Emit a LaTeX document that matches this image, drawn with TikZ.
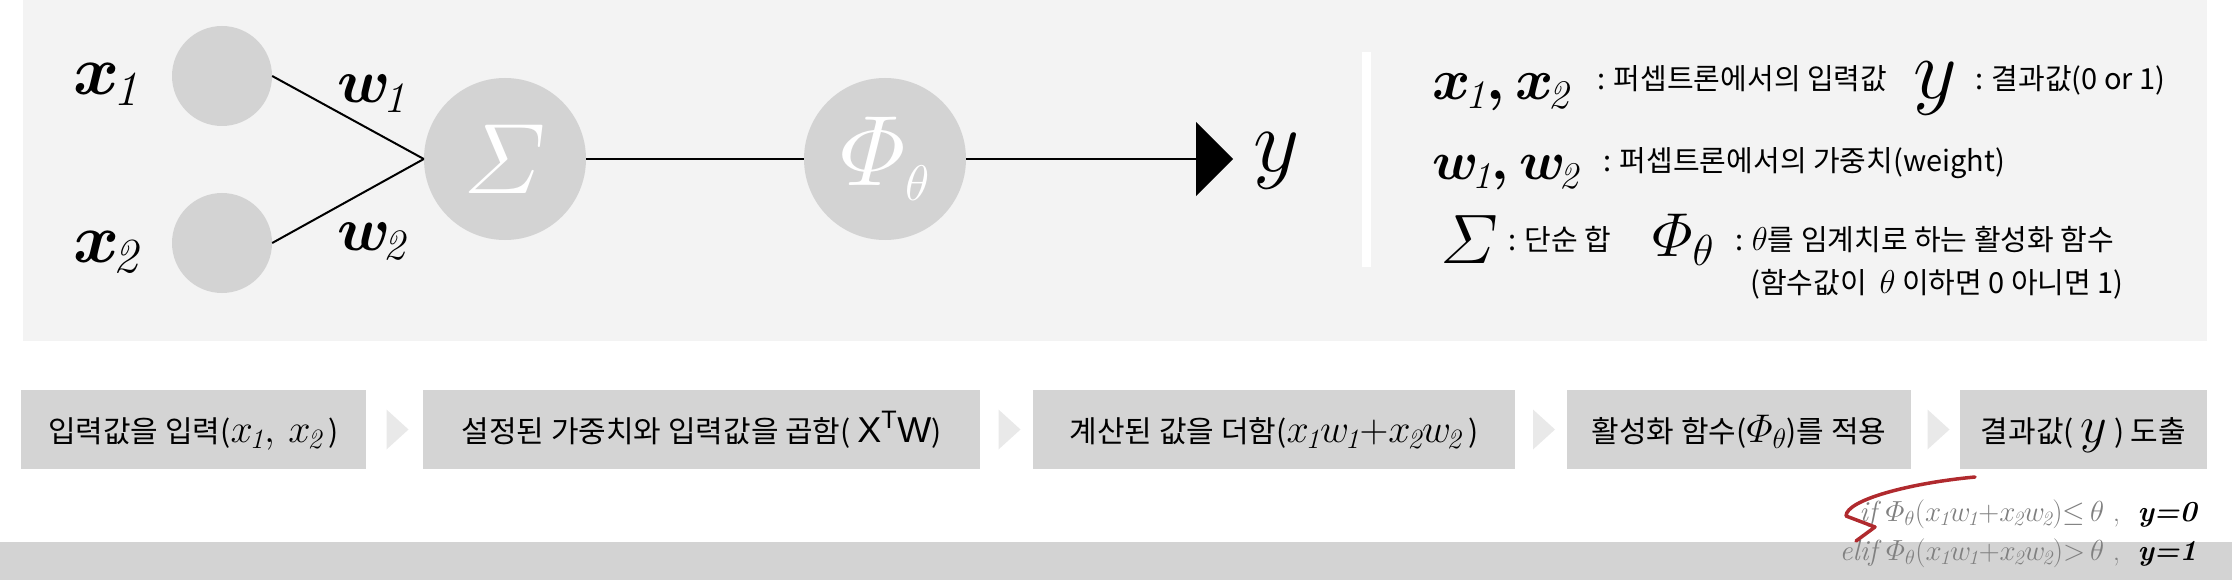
\RequirePackage{fix-cm}
\documentclass[tikz,border=0pt]{standalone}
\usepackage{amsmath}
\usepackage{fontspec}
\newfontfamily\kr{Noto Sans CJK KR}
\newfontfamily\lsans{Liberation Sans}
\usetikzlibrary{arrows.meta,calc}
\newcommand\myfs[1]{\fontsize{#1}{#1}\selectfont}
\newcommand\isub[1]{_{\mkern-2mu\text{\normalfont\itshape #1}}}
\definecolor{panelgray}{HTML}{F3F3F3}
\definecolor{circgray}{HTML}{D3D3D3}
\definecolor{boxgray}{HTML}{D4D4D4}
\definecolor{chevgray}{HTML}{E9E9E9}
\definecolor{stripgray}{HTML}{D3D3D3}
\definecolor{formgray}{HTML}{808080}
\definecolor{penred}{HTML}{B02A2E}
\tikzset{
  neuron/.style={circle, fill=circgray, inner sep=0pt},
  conn/.style={line width=2pt, draw=black},
  lbl/.style={inner sep=0pt, anchor=base west},
  stepbox/.style={fill=boxgray, minimum height=79pt, inner sep=0pt, text height=25pt, text depth=0pt, font=\kr\myfs{30}},
  chev/.style={fill=chevgray},
  cond/.style={anchor=base east, inner sep=0pt, font=\myfs{29}, text=formgray}
}
\begin{document}
\begin{tikzpicture}[x=1pt,y=-1pt]
\useasboundingbox (0,0) rectangle (2232,580);
% backgrounds
\fill[panelgray] (23,0) rectangle (2207,341);
\fill[stripgray] (0,542) rectangle (2232,580);
\fill[white] (1362,52) rectangle (1371,267);

% network
\node[neuron, minimum size=100pt] (i1) at (222,76) {};
\node[neuron, minimum size=100pt] (i2) at (222,243) {};
\node[neuron, minimum size=162pt, text=white, font=\myfs{100}] (sum) at (505,159) {$\mathnormal{\Sigma}$};
\node[neuron, minimum size=162pt, text=white, font=\myfs{100}] (phi) at (885,159) {$\mathnormal{\Phi}_{\scriptscriptstyle\theta}$};
\coordinate (yend) at (1233,159);

\draw[conn] (i1.east) -- (sum.west);
\draw[conn] (i2.east) -- (sum.west);
\draw[conn] (sum.east) -- (phi.west);
\draw[conn, -{Triangle[length=37pt,width=74pt]}] (phi.east) -- (yend);

\node[lbl, font=\myfs{70}\boldmath] (lx1) at (73,95) {$x\isub{1}$};
\node[lbl, font=\myfs{70}\boldmath] (lx2) at (73,262) {$x\isub{2}$};
\node[lbl, font=\myfs{62}\boldmath] (lw1) at (337,103) {$w\isub{1}$};
\node[lbl, font=\myfs{62}\boldmath] (lw2) at (337,250) {$w\isub{2}$};
\node[lbl, font=\myfs{90}] (ly) at (1253,172) {$y$};

% legend
\node[lbl, font=\myfs{58}\boldmath] (gx) at (1432,100) {$x\isub{1}{,}\,x\isub{2}$};
\node[lbl, font=\kr\myfs{29}] (gxt) at (1597,90) {: 퍼셉트론에서의 입력값};
\node[lbl, font=\myfs{85}] (gy) at (1913,99) {$y$};
\node[lbl, font=\kr\myfs{29}] (gyt) at (1975,90) {: 결과값(0 or 1)};
\node[lbl, font=\myfs{54}\boldmath] (gw) at (1432,180) {$w\isub{1}{,}\,w\isub{2}$};
\node[lbl, font=\kr\myfs{29}] (gwt) at (1603,172) {: 퍼셉트론에서의 가중치(weight)};
\node[lbl, font=\myfs{70}] (gs) at (1440,263) {$\mathnormal{\Sigma}$};
\node[lbl, font=\kr\myfs{29}] (gst) at (1508,250) {: 단순 합};
\node[lbl, font=\myfs{62}] (gp) at (1652,256) {$\mathnormal{\Phi}_{\theta}$};
\node[lbl, font=\kr\myfs{29}] (gpt) at (1735,250) {: {\myfs{33}$\theta$}를 임계치로 하는 활성화 함수};
\node[lbl, font=\kr\myfs{29}] (gnote) at (1750,293) {(함수값이\ \ {\myfs{33}$\theta$} 이하면 0 아니면 1)};

% process boxes
\node[stepbox, minimum width=345pt] (b1) at (193.5,429.5) {입력값을 입력({\myfs{40}$x\isub{1},\, x\isub{2}$\,})};
\node[stepbox, minimum width=557pt] (b2) at (701.5,429.5) {설정된 가중치와 입력값을 곱함( {\lsans\myfs{36}X\textsuperscript{T}W})};
\node[stepbox, minimum width=482pt] (b3) at (1274,429.5) {계산된 값을 더함({\myfs{40}$x\isub{1}w\isub{1}{+}x\isub{2}w\isub{2}$\,})};
\node[stepbox, minimum width=344pt] (b4) at (1739,429.5) {활성화 함수({\myfs{40}$\mathnormal{\Phi}_{\theta}$})를 적용};
\node[stepbox, minimum width=247pt] (b5) at (2083.5,429.5) {결과값( {\myfs{52}$y$} ) 도출};

\foreach \a/\b in {b1/b2,b2/b3,b3/b4,b4/b5}{
  \coordinate (m) at ($(\a.east)!0.5!(\b.west)$);
  \fill[chev] ($(m)+(-8,-20)$) -- ($(m)+(14,0)$) -- ($(m)+(-8,20)$) -- cycle;
}

% conditions
\node[cond] (c1) at (2197,521) {$\mathit{if}\ \mathnormal{\Phi}_{\theta}(x\isub{1}w\isub{1}{+}x\isub{2}w\isub{2}){\leq}\,\theta$\ ,\ \ \textcolor{black}{\bfseries\itshape y=0}};
\node[cond] (c2) at (2197,560) {$\mathit{elif}\ \mathnormal{\Phi}_{\theta}(x\isub{1}w\isub{1}{+}x\isub{2}w\isub{2}){>}\,\theta$\ ,\ \ \textcolor{black}{\bfseries\itshape y=1}};

\draw[penred, line width=3.5pt, line cap=round, line join=round] (1975,477) .. controls (1910,483) and (1846,500) .. (1846,516) -- (1875,527) -- (1856,541);
\end{tikzpicture}
\end{document}
